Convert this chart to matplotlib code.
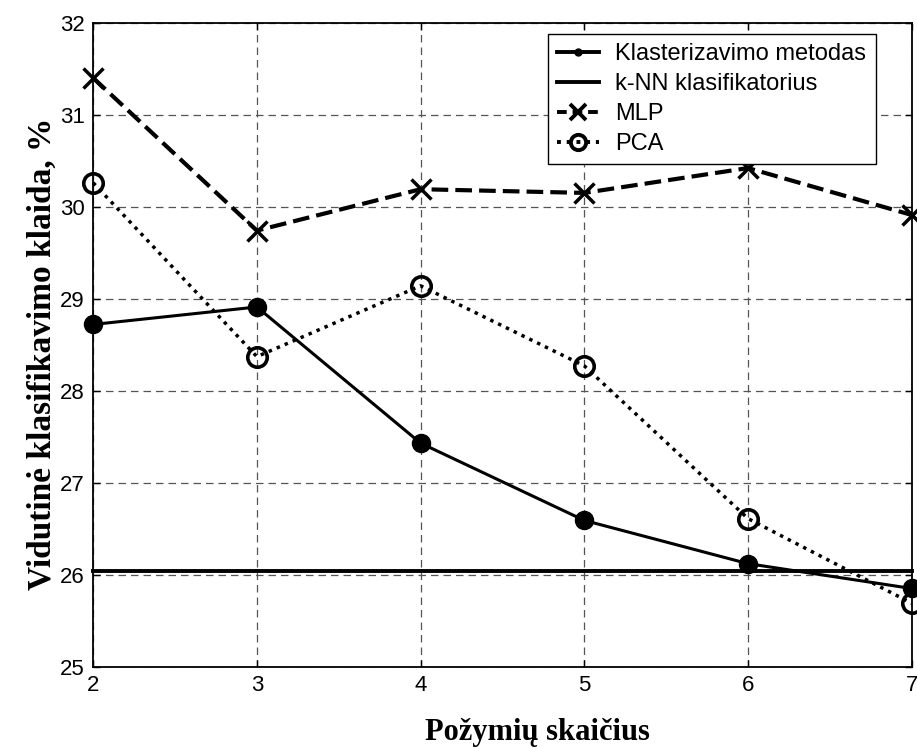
import matplotlib
matplotlib.use("Agg")
import matplotlib.pyplot as plt
from matplotlib.lines import Line2D

features = [2, 3, 4, 5, 6, 7]
klasterizavimo = [28.72, 28.91, 27.43, 26.59, 26.12, 25.85]
knn = [26.04, 26.04, 26.04, 26.04, 26.04, 26.04]
mlp = [31.40, 29.74, 30.19, 30.15, 30.42, 29.91]
pca = [30.26, 28.37, 29.14, 28.27, 26.61, 25.69]
yticks = [25, 26, 27, 28, 29, 30, 31, 32]
labels = ["Klasterizavimo metodas", "k-NN klasifikatorius", "MLP", "PCA"]

plt.rcParams['font.family'] = ['Liberation Sans', 'DejaVu Sans']

fig = plt.figure(figsize=(9.17, 7.49), dpi=100)
ax = fig.add_axes([0.1016, 0.1099, 0.8926, 0.8598])

mlp_dash = (0, (4, 1.7))
pca_dot = (0, (1, 1.5))

ax.plot(features, klasterizavimo, color='black', lw=2.2, ls='-', marker='o',
        ms=13, mfc='black', mec='black', zorder=3, clip_on=False)
ax.plot(features, knn, color='black', lw=2.8, ls='-', zorder=3, clip_on=False)
ax.plot(features, mlp, color='black', lw=3.0, ls=mlp_dash, marker='x',
        ms=15, mew=2.5, zorder=3, clip_on=False)
ax.plot(features, pca, color='black', lw=2.5, ls=pca_dot, marker='o',
        ms=14, mfc='none', mec='black', mew=2.6, zorder=3, clip_on=False,
        dash_capstyle='butt')

ax.set_xlim(2, 7)
ax.set_ylim(25, 32)
ax.set_xticks(features)
ax.set_yticks(yticks)
ax.tick_params(direction='in', length=5, width=1, labelsize=16, top=True, right=True)
ax.tick_params(axis='x', pad=6)
ax.tick_params(axis='y', pad=6)
ax.grid(True, color='#555555', ls=(0, (6, 4)), lw=0.9)
for s in ax.spines.values():
    s.set_linewidth(1.3)

ax.set_xlabel("Požymių skaičius", family=['Liberation Serif', 'DejaVu Serif'],
              fontweight='bold', fontsize=22, va='baseline', ha='center')
ax.xaxis.set_label_coords(0.543, -0.1134)
ax.set_ylabel("Vidutinė klasifikavimo klaida, %", family=['Liberation Serif', 'DejaVu Serif'],
              fontweight='bold', fontsize=24, va='center', ha='center')
ax.yaxis.set_label_coords(-0.0623, 0.4863)

handles = [
    Line2D([], [], color='black', lw=2.8, marker='o', ms=5),
    Line2D([], [], color='black', lw=2.8),
    Line2D([], [], color='black', lw=2.8, ls=(0, (2.5, 1.5)), marker='x', ms=11, mew=2.8),
    Line2D([], [], color='black', lw=2.8, ls=(0, (1, 1.5)), marker='o', ms=11,
           mfc='none', mew=2.8),
]
leg = ax.legend(handles, labels, loc='upper left', bbox_to_anchor=(0.5556, 0.9825),
                fontsize=17, frameon=True, fancybox=False, edgecolor='black',
                framealpha=1, borderpad=0.4, labelspacing=0.33, handlelength=1.75,
                handletextpad=0.7, borderaxespad=0)
leg.get_frame().set_linewidth(1.0)

fig.savefig("out.png", dpi=100)
